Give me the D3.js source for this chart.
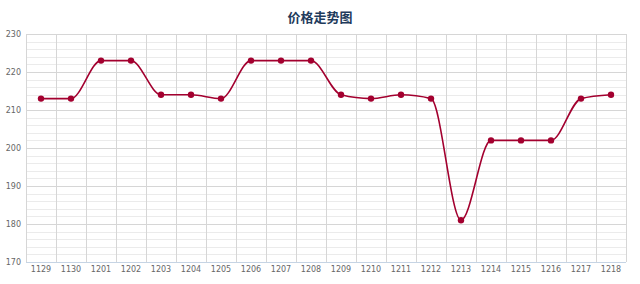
<!DOCTYPE html>
<html><head><meta charset="utf-8">
<script src="https://cdn.jsdelivr.net/npm/d3@7"></script>
<style>body{margin:0;background:#fff;}svg{display:block;}</style>
</head><body>
<svg id="chart" width="640" height="284"></svg>
<script>
const title = "价格走势图";
const categories = ["1129","1130","1201","1202","1203","1204","1205","1206","1207","1208","1209","1210","1211","1212","1213","1214","1215","1216","1217","1218"];
const prices = [213,213,223,223,214,214,213,223,223,223,214,213,214,213,181,202,202,202,213,214];
const yTicks = [170,180,190,200,210,220,230];
const yDomain = [170,230];

const svg = d3.select("#chart");
const m = {left:26, right:14, top:34, bottom:22};
const W = 640, H = 284;
const x = d3.scaleBand().domain(categories).range([m.left, W - m.right]);
const y = d3.scaleLinear().domain(yDomain).range([H - m.bottom, m.top]);

svg.append("text").attr("x", 320).attr("y", 22).attr("text-anchor","middle")
  .attr("font-family","'Noto Sans CJK SC', sans-serif").attr("font-size",13).attr("font-weight","bold")
  .attr("fill","#1f3b5c").text(title);

// minor horizontal grid
const minor = d3.range(yDomain[0], yDomain[1] + 0.1, 2).filter(v => v % 10 !== 0);
svg.append("g").selectAll("line").data(minor).join("line")
  .attr("x1", m.left).attr("x2", W - m.right)
  .attr("y1", d => Math.round(y(d)) + 0.5).attr("y2", d => Math.round(y(d)) + 0.5)
  .attr("stroke","#ebebeb").attr("stroke-width",1);
// major horizontal grid
svg.append("g").selectAll("line").data(yTicks).join("line")
  .attr("x1", m.left).attr("x2", W - m.right)
  .attr("y1", d => Math.round(y(d)) + 0.5).attr("y2", d => Math.round(y(d)) + 0.5)
  .attr("stroke","#d6d6d6").attr("stroke-width",1);
// vertical grid at band boundaries
const bounds = categories.map(c => x(c)).concat([W - m.right]);
svg.append("g").selectAll("line").data(bounds).join("line")
  .attr("x1", d => Math.round(d) + 0.5).attr("x2", d => Math.round(d) + 0.5)
  .attr("y1", m.top).attr("y2", H - m.bottom)
  .attr("stroke","#d6d6d6").attr("stroke-width",1);

// bottom axis line
svg.append("line").attr("x1", m.left).attr("x2", W - m.right)
  .attr("y1", H - m.bottom + 0.5).attr("y2", H - m.bottom + 0.5).attr("stroke","#c6d4e4");

// y axis labels
const yAxis = d3.axisLeft(y).tickValues(yTicks).tickSize(0).tickPadding(5);
const gy = svg.append("g").attr("transform",`translate(${m.left},0)`).call(yAxis);
gy.select(".domain").remove();
gy.selectAll("text").attr("font-family","'DejaVu Sans', sans-serif").attr("font-size",8).attr("fill","#666");

// x axis labels
const xAxis = d3.axisBottom(x).tickSize(0).tickPadding(4);
const gx = svg.append("g").attr("transform",`translate(0,${H - m.bottom})`).call(xAxis);
gx.select(".domain").remove();
gx.selectAll("text").attr("font-family","'DejaVu Sans', sans-serif").attr("font-size",8).attr("fill","#666");

// line
const cx = d => x(d.c) + x.bandwidth()/2;
const data = categories.map((c,i) => ({c, v: prices[i]}));
const line = d3.line().x(cx).y(d => y(d.v)).curve(d3.curveMonotoneX);
svg.append("path").datum(data).attr("d", line).attr("fill","none")
  .attr("stroke","#a3002f").attr("stroke-width",1.6);
svg.append("g").selectAll("circle").data(data).join("circle")
  .attr("cx", cx).attr("cy", d => y(d.v)).attr("r", 3.2).attr("fill","#a3002f");
</script>
</body></html>
